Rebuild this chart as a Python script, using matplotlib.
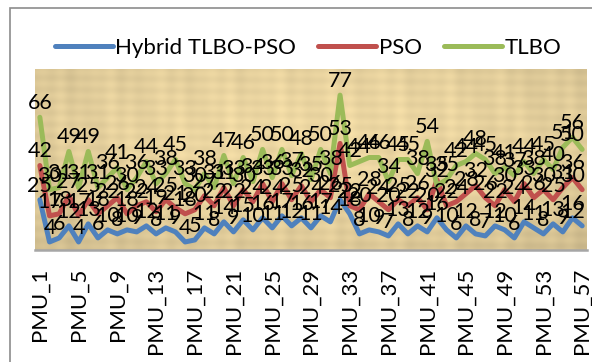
import numpy as np
import matplotlib
matplotlib.use("Agg")
import matplotlib.pyplot as plt
from matplotlib.patches import Rectangle

plt.rcParams['font.family'] = ['Lato', 'DejaVu Sans']

categories = [f"PMU_{i}" for i in range(1, 58)]
series_names = ["Hybrid TLBO-PSO", "PSO", "TLBO"]

hybrid = [25, 4, 6, 12, 4, 13, 6, 10, 8, 10, 9, 12, 8, 11, 9, 4, 5, 11, 8, 14,
          9, 15, 10, 16, 11, 17, 12, 16, 11, 17, 14, 25, 18, 8, 10, 9, 7, 13, 8, 12,
          9, 16, 10, 6, 12, 8, 7, 12, 10, 6, 14, 11, 8, 13, 9, 16, 12]
pso = [42, 17, 18, 27, 17, 25, 18, 22, 26, 18, 22, 24, 19, 25, 21, 18, 20, 27, 22, 31,
       22, 30, 24, 33, 24, 33, 25, 32, 24, 30, 26, 53, 22, 20, 28, 24, 20, 25, 22, 26,
       20, 35, 22, 24, 28, 32, 26, 22, 30, 24, 33, 26, 30, 25, 31, 36, 30]
tlbo = [66, 30, 31, 49, 31, 49, 31, 36, 41, 30, 36, 44, 33, 38, 45, 33, 30, 38, 31, 47,
        33, 46, 34, 50, 36, 50, 37, 48, 35, 50, 38, 77, 42, 44, 46, 46, 34, 45, 45, 38,
        54, 32, 35, 42, 44, 48, 45, 38, 41, 37, 44, 38, 45, 40, 51, 56, 50]

colors = ["#4F81BD", "#C0504D", "#9BBB59"]

W, H = 592, 362
fig = plt.figure(figsize=(W / 100, H / 100), dpi=100)
fig.patch.set_facecolor("white")

# chart border (cropped on right/bottom)
fig.add_artist(Rectangle((10 / W, -0.2), 1.2, 1 - 8 / H + 0.2, transform=fig.transFigure,
                         fill=False, edgecolor="#8C8C8C", linewidth=1.2))

ax = fig.add_axes([35 / W, 1 - 250 / H, 552 / W, (250 - 69) / H])
n = len(categories)
x = np.arange(n)
ax.set_xlim(-0.5, n - 0.5)
ax.set_ylim(0, 90)

# parchment background
gx = np.linspace(0, 1, 300)
gy = np.linspace(0, 1, 120)
GX, GY = np.meshgrid(gx, gy)
vign = 1 - 0.10 * ((GX - 0.5) ** 2 * 2.5 + (GY - 0.6) ** 2 * 2.0)
streak = (0.02 * np.sin(GX * 173.0) * np.sin(GX * 31.0) + 0.016 * np.sin(GY * 97.0 + GX * 3.0)
          + 0.013 * np.sin(GX * 61.0 + GY * 7.0))
shade = vign + streak
base = np.array([238, 216, 163]) / 255.0
img = np.clip(base[None, None, :] * shade[:, :, None], 0, 1)
ax.imshow(img, extent=(-0.5, n - 0.5, 0, 90), aspect="auto", origin="lower", zorder=0,
          interpolation="bilinear")

for vals, name, c in zip([hybrid, pso, tlbo], series_names, colors):
    ax.plot(x, vals, color=c, linewidth=3.6, solid_capstyle="round", solid_joinstyle="round",
            label=name, zorder=2)

for vals in [hybrid, pso, tlbo]:
    for xi, v in zip(x, vals):
        dx = -7 if xi == n - 1 else 0
        ax.annotate(f"{v}", (xi, v), xytext=(dx, 3), textcoords="offset points",
                    ha="center", va="bottom", fontsize=15.5, color="black",
                    annotation_clip=False, zorder=3)

for s in ["top", "right", "left"]:
    ax.spines[s].set_visible(False)
ax.spines["bottom"].set_color("#A6A6A6")
ax.spines["bottom"].set_linewidth(1.8)
ax.set_yticks([])
ax.set_xticks(x[::4])
ax.set_xticklabels([categories[i] for i in range(0, n, 4)], rotation=90, fontsize=16)
ax.tick_params(axis="x", length=0, pad=13)

fig.legend(loc="center", bbox_to_anchor=(308 / W, 1 - 48 / H), ncol=3, frameon=False,
           fontsize=16, handlelength=2.6, handletextpad=0.12, columnspacing=1.0)

fig.savefig("out.png", dpi=100)
